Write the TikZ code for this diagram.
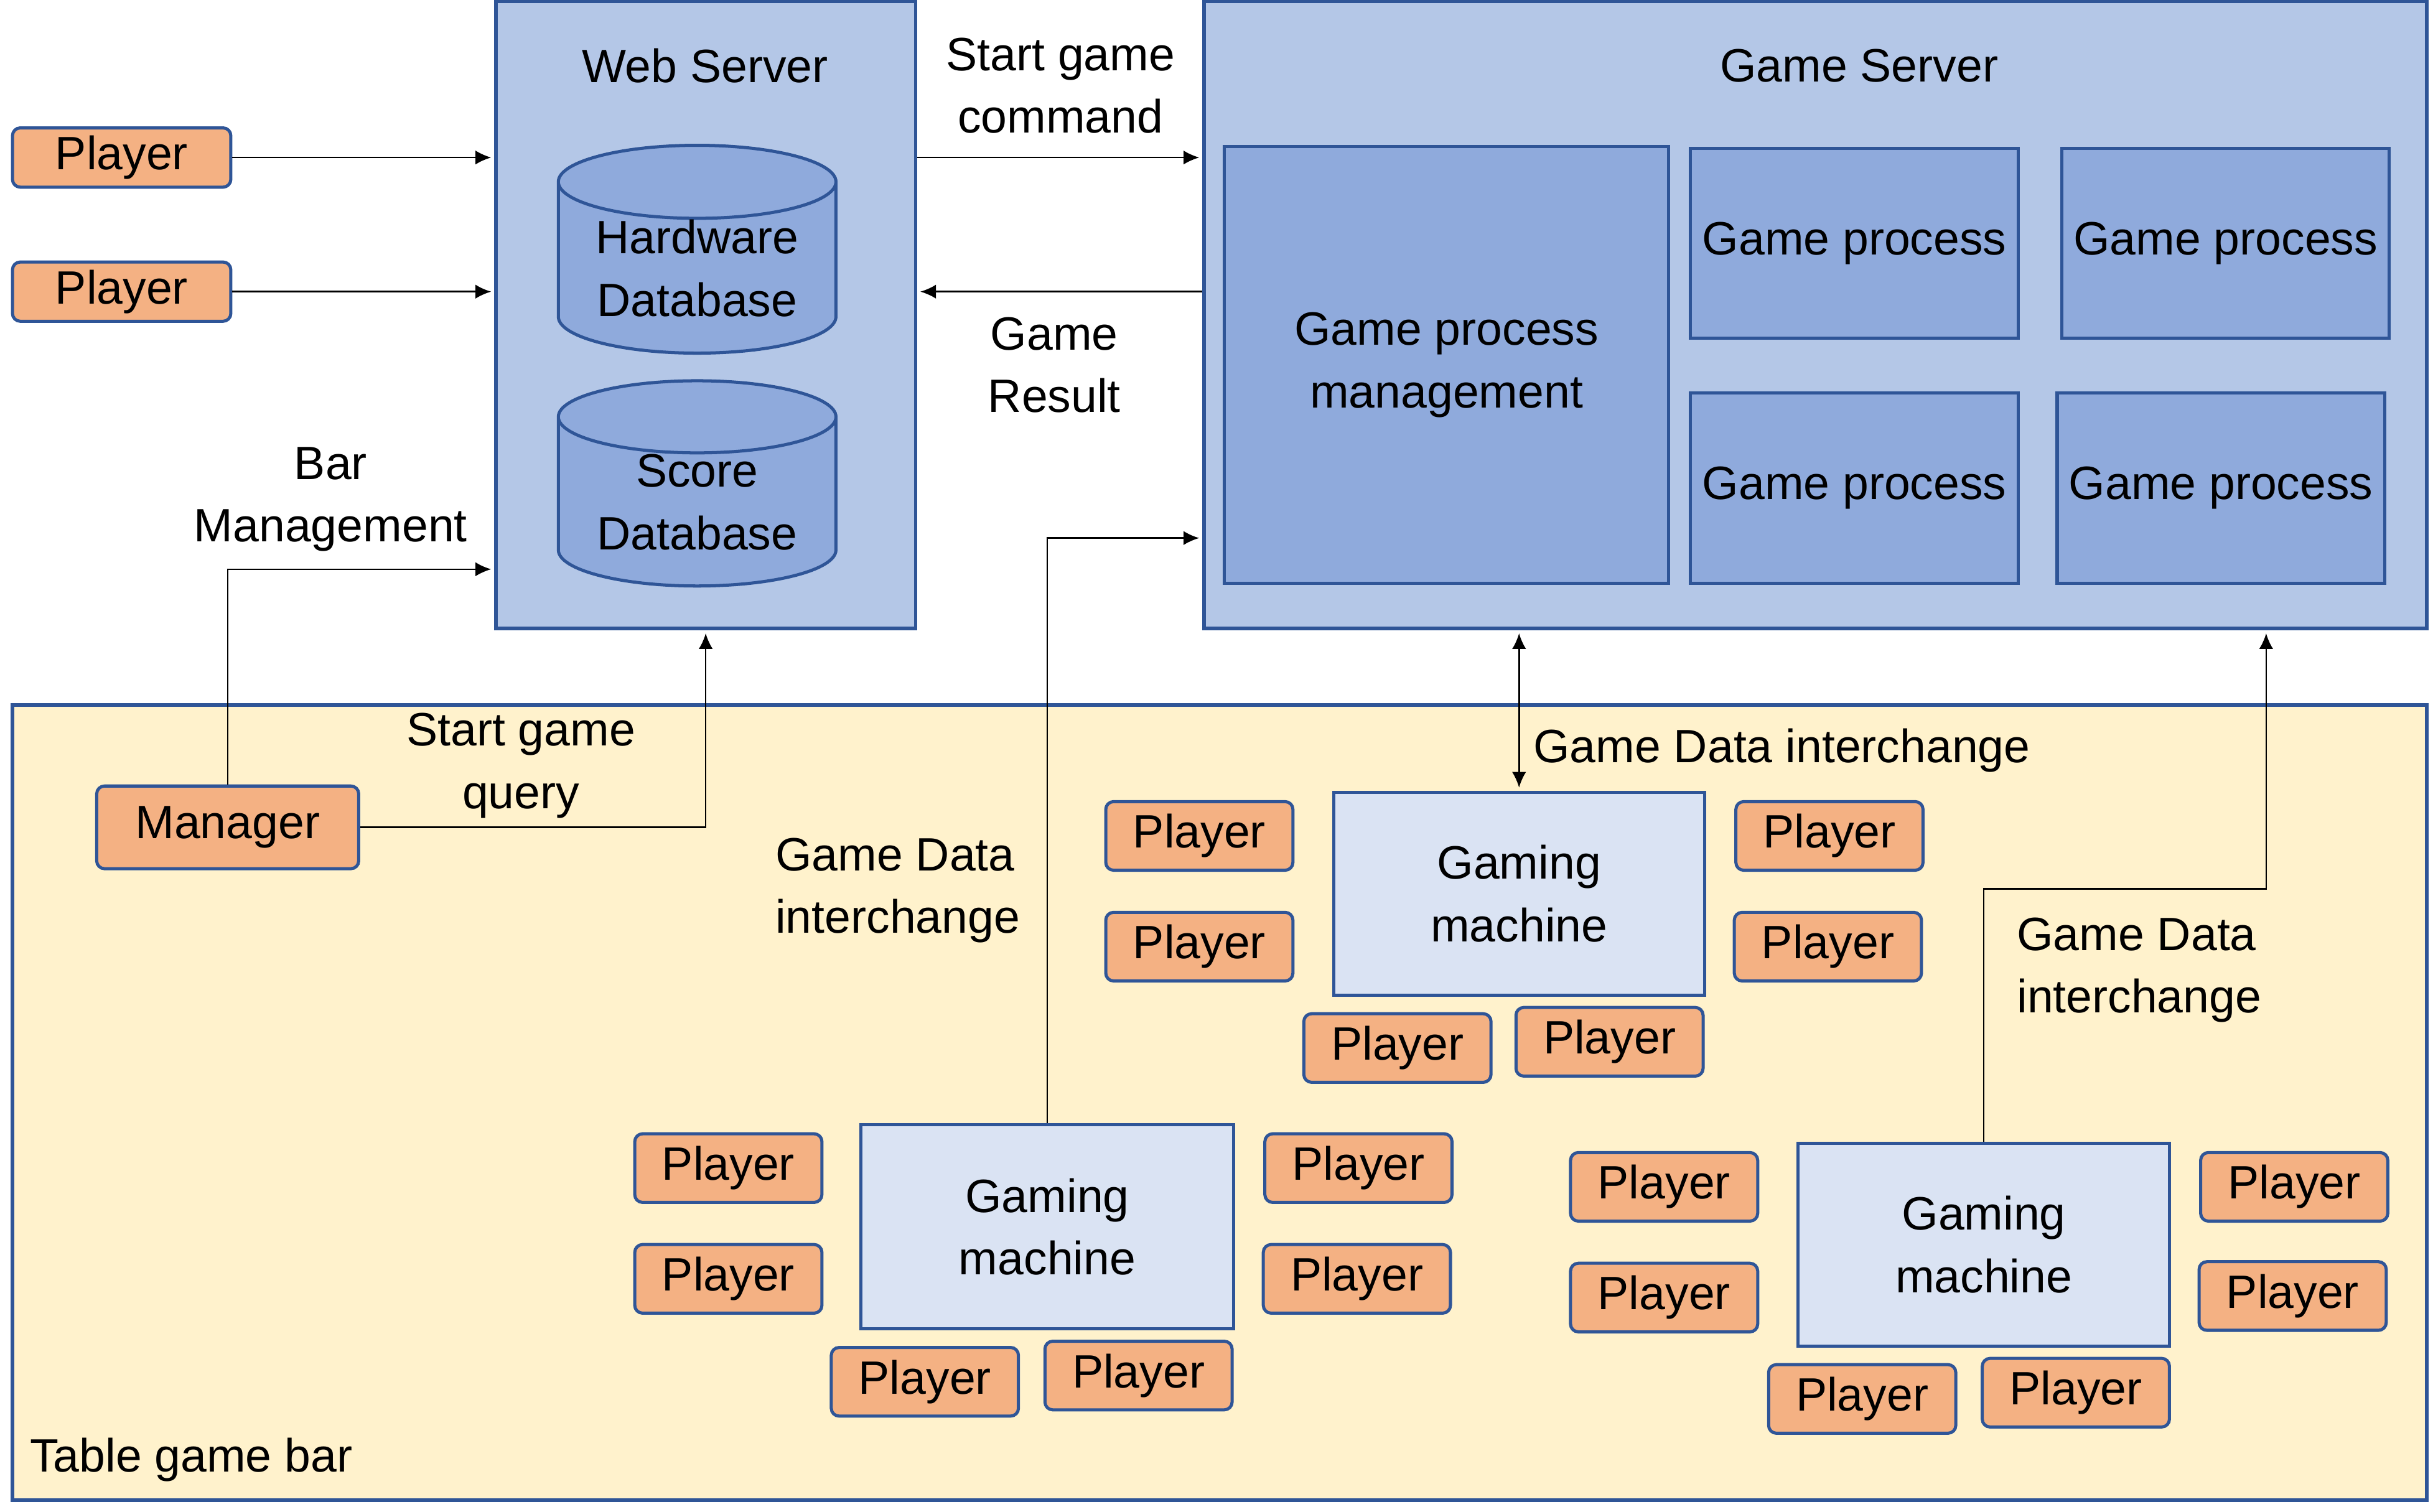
\documentclass[tikz,border=0pt]{standalone}
\usepackage{fontspec}
\setmainfont{Liberation Sans}
\usetikzlibrary{shapes.geometric,arrows.meta}
\definecolor{edgeblue}{HTML}{2F5597}
\definecolor{serverfill}{HTML}{B4C7E7}
\definecolor{innerfill}{HTML}{8FAADC}
\definecolor{machinefill}{HTML}{DAE3F3}
\definecolor{playerfill}{HTML}{F4B183}
\definecolor{barfill}{HTML}{FFF2CC}
\begin{document}
\begin{tikzpicture}[x=1pt, y=-1pt,
    every node/.style={font=\fontsize{30}{40}\selectfont, align=center, inner sep=0pt},
    server/.style={draw=edgeblue, fill=serverfill, line width=2.2pt},
    inner/.style={draw=edgeblue, fill=innerfill, line width=2pt},
    machine/.style={draw=edgeblue, fill=machinefill, line width=2pt, minimum width=238, minimum height=130},
    player/.style={draw=edgeblue, fill=playerfill, line width=2pt, rounded corners=5pt, minimum width=120, minimum height=44},
    dbase/.style={cylinder, shape border rotate=90, aspect=0.36, draw=edgeblue, fill=innerfill, line width=2pt, minimum width=178, minimum height=108},
    link/.style={line width=1pt, -{Latex[length=10pt,width=9pt]}, shorten >=2pt},
    dlink/.style={line width=1pt, {Latex[length=10pt,width=9pt]}-{Latex[length=10pt,width=9pt]}, shorten >=2pt, shorten <=2pt}]
    \useasboundingbox (0,0) rectangle (1560,969.5);

    % Table game bar
    \node[server, fill=barfill, minimum width=1548, minimum height=510] (bar) at (782,707) {};
    \node[anchor=west] (barlabel) at (19,936) {Table game bar};

    % Web Server
    \node[server, minimum width=269, minimum height=402] (web) at (452.5,202) {};
    \node (webtitle) at (452,42) {Web Server};
    \node[dbase] (hwdb) at (447,172) {Hardware\\Database};
    \node[dbase] (scdb) at (447,322) {Score\\Database};

    % Game Server
    \node[server, minimum width=784, minimum height=402] (gs) at (1164,202) {};
    \node (gstitle) at (1192,42) {Game Server};
    \node[inner, minimum width=285, minimum height=280] (gpm) at (927.5,234) {Game process\\management};
    \node[inner, minimum width=210, minimum height=122] (gp1) at (1189,156) {Game process};
    \node[inner, minimum width=210, minimum height=122] (gp2) at (1427,156) {Game process};
    \node[inner, minimum width=210, minimum height=122] (gp3) at (1189,313) {Game process};
    \node[inner, minimum width=210, minimum height=122] (gp4) at (1424,313) {Game process};

    % Players outside
    \node[player, minimum width=140, minimum height=38] (p1) at (78,101) {Player};
    \node[player, minimum width=140, minimum height=38] (p2) at (78,187) {Player};
    \draw[link] (p1) -- (p1 -| web.west);
    \draw[link] (p2) -- (p2 -| web.west);

    % Web Server <-> Game Server
    \draw[link] (web.east |- p1) -- (gs.west |- p1);
    \node (cmdlabel) at (680,55) {Start game\\command};
    \draw[link] (gs.west |- p2) -- (web.east |- p2);
    \node (reslabel) at (676,234) {Game\\Result};

    % Manager
    \node[player, minimum width=168, minimum height=53] (mgr) at (146,530.5) {Manager};
    \draw[link] (mgr.north) |- ([yshift=-163pt]web.west);
    \node (barmlabel) at (212,320) {Bar\\Management};
    \draw[link] (mgr.east) -| (web.south);
    \node (querylabel) at (334,491) {Start game\\query};

    % Gaming machine 1
    \node[machine, minimum width=239, minimum height=131] (gm1) at (671.5,786.5) {Gaming\\machine};
    \draw[link] (gm1.north) |- ([yshift=-143pt]gs.west);
    \node[anchor=west, align=left] (gm1label) at (497,571) {Game Data\\interchange};
    \node[player] (m1a) at (467,749) {Player};
    \node[player] (m1b) at (467,820) {Player};
    \node[player] (m1c) at (871,749) {Player};
    \node[player] (m1d) at (870,820) {Player};
    \node[player] (m1e) at (593,886) {Player};
    \node[player] (m1f) at (730,882) {Player};

    % Gaming machine 2
    \node[machine] (gm2) at (974,573) {Gaming\\machine};
    \draw[dlink] (gm2.north |- gs.south) -- (gm2.north);
    \node[anchor=west] (gm2label) at (983,481) {Game Data interchange};
    \node[player] (m2a) at (769,536) {Player};
    \node[player] (m2b) at (769,607) {Player};
    \node[player] (m2c) at (1173,536) {Player};
    \node[player] (m2d) at (1172,607) {Player};
    \node[player] (m2e) at (896,672) {Player};
    \node[player] (m2f) at (1032,668) {Player};

    % Gaming machine 3
    \node[machine] (gm3) at (1272,798) {Gaming\\machine};
    \coordinate (turn) at (1453,570);
    \draw[link] (gm3.north) |- (turn) -- (turn |- gs.south);
    \node[anchor=west, align=left] (gm3label) at (1293,622) {Game Data\\interchange};
    \node[player] (m3a) at (1067,761) {Player};
    \node[player] (m3b) at (1067,832) {Player};
    \node[player] (m3c) at (1471,761) {Player};
    \node[player] (m3d) at (1470,831) {Player};
    \node[player] (m3e) at (1194,897) {Player};
    \node[player] (m3f) at (1331,893) {Player};
\end{tikzpicture}
\end{document}
